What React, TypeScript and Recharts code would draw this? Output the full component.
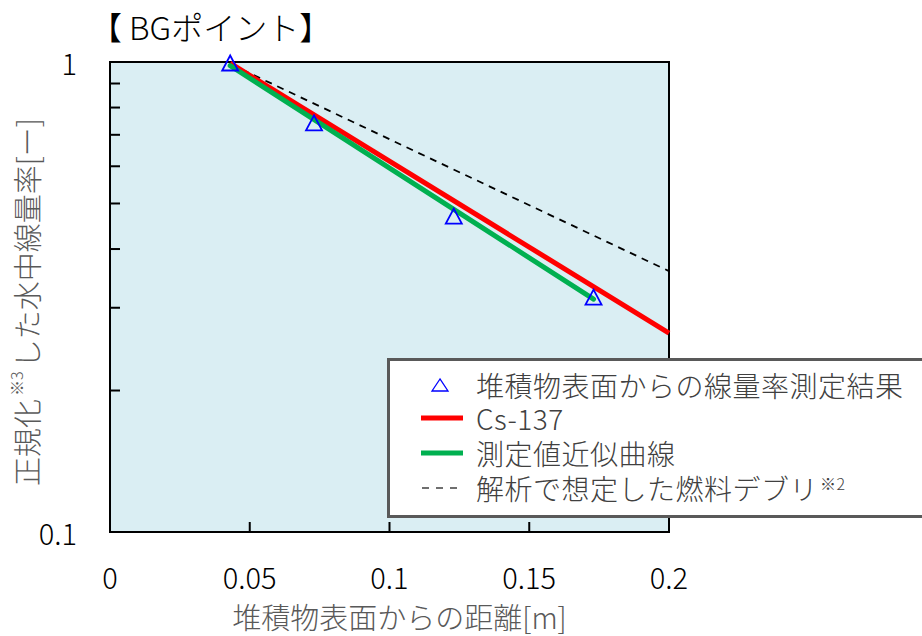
import React from 'react';
import { ComposedChart, Line, Scatter, XAxis, YAxis, CartesianGrid, ReferenceArea } from 'recharts';

// measured dose rate points (normalized)
const measuredX = [0.043, 0.073, 0.123, 0.173];
const measuredY = [0.995, 0.742, 0.47, 0.316];
// Cs-137 calculation
const csX = [0.043, 0.2];
const csY = [0.994, 0.265];
// fitted approximation curve
const fitX = [0.043, 0.173];
const fitY = [0.982, 0.313];
// assumed fuel debris analysis
const debrisX = [0.043, 0.2];
const debrisY = [0.99, 0.359];

const xTicks = [0, 0.05, 0.1, 0.15, 0.2];
const yTicks = [0.1, 0.2, 0.3, 0.4, 0.5, 0.6, 0.7, 0.8, 0.9, 1];
const yLabeled = [0.1, 1];

const titleText = '【 BGポイント】';
const xTitle = '堆積物表面からの距離[m]';
const yTitleA = '正規化';
const yTitleSup = '※3';
const yTitleB = 'した水中線量率[ー]';
const legendLabels = ['堆積物表面からの線量率測定結果', 'Cs-137', '測定値近似曲線', '解析で想定した燃料デブリ'];
const legendSup = '※2';

const toRows = (xs: number[], ys: number[]) => xs.map((x, i) => ({ x, y: ys[i] }));
const measuredData = toRows(measuredX, measuredY);
const csData = toRows(csX, csY);
const fitData = toRows(fitX, fitY);
const debrisData = toRows(debrisX, debrisY);

const FONT = '"Noto Sans CJK JP", "Noto Sans", sans-serif';
const LIGHT = 300;

const Triangle = (props: any) => {
  const { cx, cy } = props;
  if (cx == null || cy == null) return null;
  const w = 8, h = 7.5;
  return (
    <polygon
      points={`${cx},${cy - h} ${cx - w},${cy + h} ${cx + w},${cy + h}`}
      fill="none"
      stroke="#0000FF"
      strokeWidth={1.8}
    />
  );
};

const XTick = (props: any) => {
  const { x, y, payload } = props;
  const v = payload.value;
  const inner = v > 0 && v < 0.2;
  return (
    <g>
      {inner && <line x1={x} x2={x} y1={y} y2={y - 10} stroke="#000" strokeWidth={2} />}
      <text x={x} y={y + 44} textAnchor="middle" dominantBaseline="central" fontSize={29} fontWeight={LIGHT} fontFamily={FONT} fill="#000">
        {String(v)}
      </text>
    </g>
  );
};

const YTick = (props: any) => {
  const { x, y, payload } = props;
  const v = payload.value;
  const labeled = yLabeled.includes(v);
  return (
    <g>
      {!labeled && <line x1={x} x2={x + 10} y1={y} y2={y} stroke="#000" strokeWidth={2} />}
      {labeled && (
        <text x={x - 33} y={y} textAnchor="end" dominantBaseline="central" fontSize={29} fontWeight={LIGHT} fontFamily={FONT} fill="#000">
          {String(v)}
        </text>
      )}
    </g>
  );
};

const YTitle = (props: any) => {
  const vb = props.viewBox || {};
  const cx = 26;
  const cy = (vb.y ?? 62) + (vb.height ?? 470) / 2 + 5;
  return (
    <text
      x={cx}
      y={cy}
      transform={`rotate(-90 ${cx} ${cy})`}
      textAnchor="middle"
      dominantBaseline="central"
      fontSize={29}
      fontWeight={LIGHT}
      fontFamily={FONT}
      fill="#595959"
    >
      {yTitleA}
      <tspan fontSize={16} dx={3} dy={-10}>{yTitleSup}</tspan>
      <tspan dx={3} dy={10}>{yTitleB}</tspan>
    </text>
  );
};

const XTitle = (props: any) => {
  const vb = props.viewBox || {};
  const cx = (vb.x ?? 110) + (vb.width ?? 559) / 2 + 10;
  const cy = 616;
  return (
    <text x={cx} y={cy} textAnchor="middle" dominantBaseline="central" fontSize={29} fontWeight={LIGHT} fontFamily={FONT} fill="#595959">
      {xTitle}
    </text>
  );
};

const LegendIcon = ({ idx }: { idx: number }) => {
  if (idx === 0) {
    return (
      <svg width={44} height={20} style={{ display: 'block' }}>
        <polygon points="20,4 12,16 28,16" fill="none" stroke="#0000FF" strokeWidth={1.3} />
      </svg>
    );
  }
  const color = idx === 1 ? '#FF0000' : idx === 2 ? '#00B050' : '#404040';
  return (
    <svg width={44} height={20} style={{ display: 'block' }}>
      {idx === 3 ? (
        <line x1={2} x2={42} y1={10} y2={10} stroke={color} strokeWidth={1.5} strokeDasharray="7 7" />
      ) : (
        <line x1={1} x2={43} y1={10} y2={10} stroke={color} strokeWidth={5} />
      )}
    </svg>
  );
};

const rowCenters = [27, 60, 95, 130];

export default function App() {
  return (
    <div style={{ position: 'absolute', left: 0, top: 0, width: 922, height: 636, overflow: 'hidden', background: '#fff' }}>
      <ComposedChart width={922} height={636} margin={{ top: 62, right: 253, bottom: 0, left: 0 }}>
        <CartesianGrid fill="#DAEEF3" horizontal={false} vertical={false} stroke="none" />
        <XAxis
          type="number"
          dataKey="x"
          domain={[0, 0.2]}
          ticks={xTicks}
          height={104}
          tickSize={0}
          tickMargin={0}
          tick={<XTick />}
          axisLine={{ stroke: '#000', strokeWidth: 2 }}
          label={<XTitle />}
          interval={0}
        />
        <YAxis
          type="number"
          dataKey="y"
          scale="log"
          domain={[0.1, 1]}
          ticks={yTicks}
          width={110}
          tickSize={0}
          tickMargin={0}
          tick={<YTick />}
          axisLine={{ stroke: '#000', strokeWidth: 2 }}
          label={<YTitle />}
          interval={0}
        />
        <ReferenceArea x1={0} x2={0.2} y1={0.1} y2={1} fill="none" fillOpacity={0} stroke="#000" strokeWidth={2} />
        <Line data={debrisData} dataKey="y" stroke="#000" strokeWidth={1.8} strokeDasharray="7 6" dot={false} isAnimationActive={false} />
        <Line data={csData} dataKey="y" stroke="#FF0000" strokeWidth={5} dot={false} isAnimationActive={false} />
        <Line data={fitData} dataKey="y" stroke="#00B050" strokeWidth={5} strokeLinecap="round" dot={false} isAnimationActive={false} />
        <Scatter data={measuredData} dataKey="y" shape={<Triangle />} isAnimationActive={false} />
      </ComposedChart>
      <div
        style={{
          position: 'absolute',
          left: 90,
          top: 4,
          fontFamily: FONT,
          fontWeight: LIGHT,
          fontSize: 32,
          color: '#000',
          whiteSpace: 'pre',
          lineHeight: '44px',
        }}
      >
        {titleText}
      </div>
      <div
        style={{
          position: 'absolute',
          left: 387,
          top: 358,
          width: 570,
          height: 160,
          boxSizing: 'border-box',
          border: '3px solid #595959',
          background: '#fff',
          fontFamily: FONT,
          fontWeight: LIGHT,
          color: '#404040',
        }}
      >
        {legendLabels.map((lab, i) => (
          <div
            key={i}
            style={{
              position: 'absolute',
              left: 30,
              top: rowCenters[i] - 3 - 18,
              height: 36,
              display: 'flex',
              alignItems: 'center',
              whiteSpace: 'nowrap',
            }}
          >
            <LegendIcon idx={i} />
            <span style={{ marginLeft: 12, fontSize: 28, lineHeight: '36px', letterSpacing: 0.5 }}>
              {lab}
              {i === 3 && <sup style={{ fontSize: 16, verticalAlign: 'top', lineHeight: '26px', marginLeft: 2 }}>{legendSup}</sup>}
            </span>
          </div>
        ))}
      </div>
    </div>
  );
}
